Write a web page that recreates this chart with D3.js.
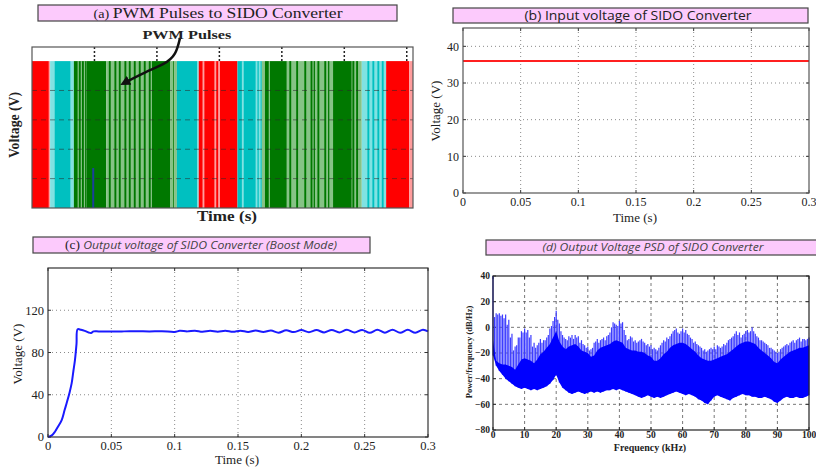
<!DOCTYPE html>
<html><head><meta charset="utf-8">
<script src="https://cdn.jsdelivr.net/npm/d3@7"></script>
<style>body{margin:0;background:#fff}svg{display:block}</style>
</head><body>
<svg id="c" width="816" height="467"></svg>
<script>
// ---------------- DATA ----------------
// (a) PWM pulses: colour bands along the time strip [start, end, colourKey]
const pwmTicks = [10, 20, 30, 40, 50, 60];
const pwmBands = [
  [0, 2.7, "R"], [2.7, 2.9, "P"], [2.9, 3.6, "L"], [3.6, 6.2, "C"], [6.2, 6.7, "L"],
  [6.7, 8.7, "G"], [8.7, 11.9, "G"], [11.9, 19.2, "g"], [19.2, 22.1, "G"],
  [22.1, 22.6, "g"], [22.6, 22.8, "G"], [22.8, 23.2, "g"], [23.2, 26.5, "C"],
  [26.5, 26.7, "L"], [26.7, 32.9, "R"], [32.9, 36.8, "C"], [36.8, 37.3, "g"],
  [37.3, 40.8, "G"], [40.8, 48.2, "g"], [48.2, 51.2, "G"], [51.2, 52.8, "g"],
  [52.8, 56.7, "L"], [56.7, 60.4, "R"], [60.4, 61, "P"]
];
const pwmStripes = [
  [7.3, 7.5, "g"], [7.8, 8.0, "g"], [8.3, 8.5, "g"],
  [12.3, 12.6, "G"], [13.2, 13.5, "G"], [13.9, 14.2, "G"], [14.8, 15.1, "G"],
  [15.5, 15.8, "G"], [16.3, 16.6, "G"], [17.1, 17.4, "G"], [17.9, 18.2, "G"], [18.7, 19.0, "G"],
  [27.3, 27.6, "P"], [29.2, 29.5, "P"], [29.8, 30.1, "P"],
  [33.6, 33.9, "L"], [35.8, 36.1, "L"], [36.3, 36.6, "L"],
  [37.9, 38.1, "g"],
  [41.2, 41.5, "G"], [42.3, 42.6, "G"], [43.6, 43.9, "G"], [44.6, 44.9, "G"],
  [45.1, 45.3, "G"], [45.7, 46.0, "G"], [46.8, 47.1, "G"], [47.4, 47.6, "G"],
  [51.3, 51.6, "G"], [51.9, 52.2, "G"],
  [53.7, 54.0, "C"], [54.5, 54.8, "C"], [55.3, 55.6, "C"], [56.0, 56.3, "C"]
];
const pwmMarker = [9.8, 1.36];          // short blue pulse [time, level]
const pwmGridLevels = [1, 2, 3, 4];
const pwmArrow = [[23.7, 5.79], [23.05, 5.21], [21.3, 4.90], [18.1, 4.63], [14.7, 4.25]];

// (b) input voltage
const inTime = [0, 0.3];
const inVolt = [36, 36];
const bTicksX = [0, 0.05, 0.1, 0.15, 0.2, 0.25, 0.3];
const bTicksY = [0, 10, 20, 30, 40];

// (c) output voltage (boost)
const outTime = [0, 0.003, 0.0055, 0.008, 0.0108, 0.013, 0.0147, 0.017, 0.0187, 0.020, 0.0213, 0.0225, 0.0234,
  0.026, 0.029, 0.032, 0.034, 0.036, 0.04, 0.05, 0.06, 0.07, 0.08, 0.09, 0.1, 0.104, 0.11, 0.116, 0.122,
  0.128, 0.134, 0.14, 0.146, 0.152, 0.158, 0.164, 0.17, 0.176, 0.182, 0.188, 0.194, 0.2, 0.206, 0.212,
  0.218, 0.224, 0.23, 0.236, 0.242, 0.248, 0.254, 0.26, 0.266, 0.272, 0.278, 0.284, 0.29, 0.296, 0.3];
const outVolt = [0, 1.5, 5, 10, 16, 25, 32, 42, 51, 62, 73, 88, 102,
  101.5, 100.5, 99, 98.5, 100, 100, 100, 100, 100.2, 100, 100.2, 99.5, 100.5, 100, 100.6, 99.6,
  100.5, 99.7, 100.6, 99.6, 100.7, 99.5, 100.8, 99.4, 100.8, 98.8, 101, 99.3, 101.2, 99.2, 101.2,
  99, 101.3, 99, 101.5, 98.9, 101.4, 98.7, 101.5, 98.8, 101.6, 98.6, 101.5, 98.7, 101.6, 100];
const cTicksX = [0, 0.05, 0.1, 0.15, 0.2, 0.25, 0.3];
const cTicksY = [0, 40, 80, 120];

// (d) PSD (dB/Hz): spike tips at each kHz 0..100, spike tips at the half kHz 0.5..99.5,
// dense-band top and dense-band bottom at each kHz
const psdPeak = [40, 11, 11, 10, 10, 6, -5, -15, -8, -3, -1, -2, -6, -12, -14, -9, -10, -8, -1, 5,
  13, 3, -6, -9, -7, -6, -6, -7, -10, -14, -15, -17, -12, -9, -10, -8, -7, -4, 4, 2,
  5, 4, -6, -9, -8, -10, -11, -9, -12, -13, -14, -16, -18, -14, -10, -8, -7, -3, -1, -5,
  -1, -2, -6, -9, -11, -14, -16, -17, -18, -16, -15, -14, -16, -13, -12, -9, -7, -3, -4, -6,
  -3, -4, 0, -5, -8, -10, -12, -14, -16, -18, -20, -17, -15, -13, -12, -10, -10, -8, -9, -10, -8];
const psdMid = [8, 10, 9, 7, 2, -8, -18, -14, -8, -4,
  -4, -8, -15, -16, -12, -12, -10, -6, 1, 8,
  6, -3, -8, -10, -8, -9, -8, -12, -13, -16,
  -18, -16, -11, -12, -9, -10, -6, 0, 3, 1,
  3, -2, -10, -7, -11, -12, -10, -11, -14, -15,
  -17, -17, -16, -12, -11, -9, -5, -2, -4, -3,
  -4, -5, -8, -12, -13, -15, -18, -19, -17, -17,
  -17, -15, -15, -14, -10, -8, -5, -6, -8, -5,
  -2, -3, -3, -7, -10, -11, -13, -16, -17, -19,
  -19, -16, -14, -14, -11, -12, -9, -11, -9, -9];
const psdTop = [-10, -26, -28, -29, -29, -30, -31, -33, -29, -25, -24, -25, -26, -28, -25, -21, -19, -16, -13, -8,
  -3, -11, -15, -17, -15, -14, -13, -15, -18, -19, -20, -23, -22, -18, -16, -15, -14, -13, -11, -10,
  -11, -12, -16, -17, -18, -18, -19, -19, -20, -22, -23, -26, -26, -24, -21, -19, -16, -14, -13, -12,
  -12, -13, -15, -17, -19, -22, -24, -25, -26, -26, -25, -24, -23, -22, -21, -19, -17, -15, -13, -12,
  -11, -11, -12, -13, -16, -18, -20, -22, -24, -27, -28, -25, -23, -21, -19, -18, -17, -16, -16, -15, -14];
const psdLow = [-22, -30, -34, -37, -40, -42, -44, -46, -47, -48, -47, -48, -49, -48, -49, -48, -47, -46, -44, -41,
  -37, -43, -47, -49, -51, -52, -51, -50, -51, -52, -51, -50, -51, -50, -51, -50, -49, -49, -48, -49,
  -48, -49, -50, -51, -52, -53, -54, -55, -54, -53, -54, -55, -54, -55, -54, -53, -52, -51, -50, -51,
  -52, -53, -52, -53, -54, -56, -57, -59, -60, -57, -54, -53, -54, -55, -56, -57, -55, -54, -53, -52,
  -53, -53, -54, -54, -55, -55, -54, -55, -56, -58, -59, -57, -55, -54, -55, -55, -54, -55, -55, -54, -53];
const dTicksX = [0, 10, 20, 30, 40, 50, 60, 70, 80, 90, 100];
const dTicksY = [-80, -60, -40, -20, 0, 20, 40];

// ---------------- DRAWING ----------------
const svg = d3.select("#c");
const SERIF = "'Liberation Serif','Times New Roman',serif";
const SANS = "'Open Sans','Lato',sans-serif";
const pwmColors = {R: "#ff0000", P: "#ff9c9c", C: "#00c0c0", L: "#80e2e2", G: "#007800", g: "#86c386"};

function titleBox(x0, y0, x1, y1, parts, cx, base, len) {
  svg.append("rect").attr("x", x0).attr("y", y0).attr("width", x1 - x0).attr("height", y1 - y0)
    .attr("fill", "#fccafc").attr("stroke", "#444").attr("stroke-width", 1.2);
  const t = svg.append("text").attr("x", cx).attr("y", base).attr("text-anchor", "middle").attr("fill", "#222");
  if (len) t.attr("textLength", len).attr("lengthAdjust", "spacingAndGlyphs");
  parts.forEach(p => {
    const s = t.append("tspan").text(p.t).attr("font-family", p.f).attr("font-size", p.s);
    if (p.i) s.attr("font-style", "italic");
    if (p.c) s.attr("fill", p.c);
  });
}

// ----- panel (a)
{
  const x = d3.scaleLinear().domain([0, 61]).range([32, 413]);
  const y = d3.scaleLinear().domain([0, 5.48]).range([208, 47]);
  const g = svg.append("g");
  g.append("rect").attr("x", x(0)).attr("y", y(5.48)).attr("width", x(61) - x(0)).attr("height", y(0) - y(5.48)).attr("fill", "#fff");
  g.selectAll(".band").data(pwmBands.concat(pwmStripes)).join("rect")
    .attr("x", d => x(d[0])).attr("width", d => x(d[1]) - x(d[0]))
    .attr("y", y(5)).attr("height", y(0) - y(5)).attr("fill", d => pwmColors[d[2]]);
  g.selectAll(".hg").data(pwmGridLevels).join("line")
    .attr("x1", x(0)).attr("x2", x(61)).attr("y1", d => y(d)).attr("y2", d => y(d))
    .attr("stroke", "#2a2a2a").attr("stroke-opacity", 0.55).attr("stroke-dasharray", "5,4");
  g.selectAll(".vt").data(pwmTicks).join("line")
    .attr("x1", d => x(d)).attr("x2", d => x(d)).attr("y1", y(5.48)).attr("y2", y(5))
    .attr("stroke", "#222").attr("stroke-width", 1.5).attr("stroke-dasharray", "2,2");
  g.append("line").attr("x1", x(pwmMarker[0])).attr("x2", x(pwmMarker[0]))
    .attr("y1", y(0)).attr("y2", y(pwmMarker[1])).attr("stroke", "#1c3e9c").attr("stroke-width", 2);
  g.append("rect").attr("x", x(0)).attr("y", y(5.48)).attr("width", x(61) - x(0)).attr("height", y(0) - y(5.48))
    .attr("fill", "none").attr("stroke", "#555").attr("stroke-width", 1.2);
  svg.append("defs").append("marker").attr("id", "ah").attr("viewBox", "0 0 10 10").attr("refX", 6).attr("refY", 5)
    .attr("markerWidth", 4).attr("markerHeight", 4).attr("orient", "auto")
    .append("path").attr("d", "M0,0L10,5L0,10z").attr("fill", "#111");
  g.append("path").attr("d", d3.line().x(d => x(d[0])).y(d => y(d[1])).curve(d3.curveBasis)(pwmArrow))
    .attr("fill", "none").attr("stroke", "#111").attr("stroke-width", 2.5).attr("marker-end", "url(#ah)");
  g.append("text").attr("x", x(24.8)).attr("y", 39).attr("text-anchor", "middle").attr("textLength", 89).attr("lengthAdjust", "spacingAndGlyphs")
    .attr("font-family", SERIF).attr("font-weight", "bold").attr("font-size", 13.5).attr("fill", "#222").text("PWM Pulses");
  g.append("text").attr("x", 227).attr("y", 221).attr("text-anchor", "middle").attr("textLength", 60).attr("lengthAdjust", "spacingAndGlyphs")
    .attr("font-family", SERIF).attr("font-weight", "bold").attr("font-size", 15).attr("fill", "#222").text("Time (s)");
  g.append("text").attr("transform", "translate(19,125) rotate(-90)").attr("text-anchor", "middle").attr("textLength", 66).attr("lengthAdjust", "spacingAndGlyphs")
    .attr("font-family", SERIF).attr("font-weight", "bold").attr("font-size", 15).attr("fill", "#222").text("Voltage (V)");
  titleBox(38, 5, 397, 21, [{t: "(a) ", f: SERIF, s: 12}, {t: "PWM Pulses to SIDO Converter", f: SERIF, s: 15}], 218, 18, 249);
}

// generic MATLAB-like axes
function axesBox(x, y, o) {
  const g = svg.append("g");
  const [x0, x1] = x.range(), [y0, y1] = y.range();
  g.append("rect").attr("x", x0).attr("y", y1).attr("width", x1 - x0).attr("height", y0 - y1).attr("fill", "#fff");
  g.selectAll(".gx").data(o.tx.filter(v => v !== x.domain()[0] && v !== x.domain()[1])).join("line")
    .attr("x1", d => x(d)).attr("x2", d => x(d)).attr("y1", y0).attr("y2", y1)
    .attr("stroke", o.grid).attr("stroke-dasharray", o.dash).attr("stroke-width", o.gw || 1);
  g.selectAll(".gy").data(o.ty.filter(v => v !== y.domain()[0] && v !== y.domain()[1])).join("line")
    .attr("y1", d => y(d)).attr("y2", d => y(d)).attr("x1", x0).attr("x2", x1)
    .attr("stroke", o.grid).attr("stroke-dasharray", o.dash).attr("stroke-width", o.gw || 1);
  g.selectAll(".tkx").data(o.tx).join("path")
    .attr("d", d => `M${x(d)},${y0}v-3M${x(d)},${y1}v3`).attr("stroke", "#333");
  g.selectAll(".tky").data(o.ty).join("path")
    .attr("d", d => `M${x0},${y(d)}h3M${x1},${y(d)}h-3`).attr("stroke", "#333");
  const fw = o.bold ? "bold" : "normal";
  g.selectAll(".lx").data(o.tx).join("text").attr("x", d => x(d)).attr("y", y0 + o.lxdy)
    .attr("text-anchor", "middle").attr("font-family", SERIF).attr("font-size", o.fs).attr("font-weight", fw)
    .attr("fill", "#222").text(d => d3.format("~g")(d));
  g.selectAll(".ly").data(o.ty).join("text").attr("x", x0 - o.lydx).attr("y", d => y(d) + o.fs * 0.35)
    .attr("text-anchor", "end").attr("font-family", SERIF).attr("font-size", o.fs).attr("font-weight", fw)
    .attr("fill", "#222").text(d => d3.format("~g")(d));
  g.append("text").attr("x", o.xl[0]).attr("y", o.xl[1]).attr("text-anchor", "middle")
    .attr("font-family", SERIF).attr("font-size", o.lfs).attr("font-weight", fw).attr("fill", "#222").text(o.xt);
  g.append("text").attr("transform", `translate(${o.yl[0]},${o.yl[1]}) rotate(-90)`).attr("text-anchor", "middle")
    .attr("font-family", SERIF).attr("font-size", o.ylfs || o.lfs).attr("font-weight", fw).attr("fill", "#222").text(o.yt);
  return g;
}
function frame(x, y, col) {
  const [x0, x1] = x.range(), [y0, y1] = y.range();
  svg.append("rect").attr("x", x0).attr("y", y1).attr("width", x1 - x0).attr("height", y0 - y1)
    .attr("fill", "none").attr("stroke", col).attr("stroke-width", 1.2);
}

// ----- panel (b)
{
  const x = d3.scaleLinear().domain([0, 0.3]).range([463, 809]);
  const y = d3.scaleLinear().domain([0, 45]).range([193, 28]);
  axesBox(x, y, {tx: bTicksX, ty: bTicksY, grid: "#8a8a8a", dash: "1,3", fs: 12, lxdy: 13, lydx: 4,
    xl: [635, 222], yl: [440, 111], lfs: 13, xt: "Time (s)", yt: "Voltage (V)"});
  svg.append("path").attr("d", d3.line().x((d, i) => x(inTime[i])).y(d => y(d))(inVolt))
    .attr("fill", "none").attr("stroke", "#ff2020").attr("stroke-width", 2);
  frame(x, y, "#555");
  titleBox(453, 8, 808, 23, [{t: "(b) Input voltage of SIDO Converter", f: SANS, s: 12.5}], 638, 19.5, 227);
}

// ----- panel (c)
{
  const x = d3.scaleLinear().domain([0, 0.3]).range([48, 428]);
  const y = d3.scaleLinear().domain([0, 160]).range([437, 268]);
  axesBox(x, y, {tx: cTicksX, ty: cTicksY, grid: "#8a8a8a", dash: "1,3", fs: 12.5, lxdy: 13, lydx: 4,
    xl: [237, 464], yl: [22, 354], lfs: 13, xt: "Time (s)", yt: "Voltage (V)"});
  svg.append("path").attr("d", d3.line().x((d, i) => x(outTime[i])).y(d => y(d)).curve(d3.curveCatmullRom)(outVolt))
    .attr("fill", "none").attr("stroke", "#1a1aff").attr("stroke-width", 2);
  frame(x, y, "#333");
  titleBox(33, 237, 370, 253, [{t: "(c) ", f: SERIF, s: 12},
    {t: "Output voltage of SIDO Converter (Boost Mode)", f: SANS, s: 11, i: true, c: "#444"}], 201, 249, 272);
}

// ----- panel (d)
{
  const x = d3.scaleLinear().domain([0, 100]).range([493, 809]);
  const y = d3.scaleLinear().domain([-80, 40]).range([430, 276]);
  axesBox(x, y, {tx: dTicksX, ty: dTicksY, grid: "#555", dash: "3,3", gw: 0.8, fs: 9.5, bold: true, lxdy: 8, lydx: 3,
    xl: [650, 451], yl: [472, 352], lfs: 10, ylfs: 8.5, xt: "Frequency (kHz)", yt: "Power/frequency (dB/Hz)"});
  const pts = d3.range(psdPeak.length);
  const half = d3.range(psdMid.length);
  const sp = svg.append("g").attr("stroke", "#3c3cff").attr("stroke-width", 1.2);
  sp.selectAll(".p").data(pts).join("line")
    .attr("x1", i => x(i)).attr("x2", i => x(i)).attr("y1", i => y(psdLow[i])).attr("y2", i => y(psdPeak[i]));
  sp.selectAll(".m").data(half).join("line")
    .attr("x1", i => x(i + 0.5)).attr("x2", i => x(i + 0.5))
    .attr("y1", i => y(Math.max(psdLow[i], psdLow[i + 1]))).attr("y2", i => y(psdMid[i]));
  svg.append("path").attr("d", d3.area().x(i => x(i)).y0(i => y(psdLow[i])).y1(i => y(psdTop[i]))(pts))
    .attr("fill", "#0000ff");
  frame(x, y, "#222");
  titleBox(486, 240, 820, 255, [{t: "(d) Output Voltage PSD of SIDO Converter", f: SANS, s: 11, i: true, c: "#444"}], 653, 251, 221);
}
</script>
</body></html>
